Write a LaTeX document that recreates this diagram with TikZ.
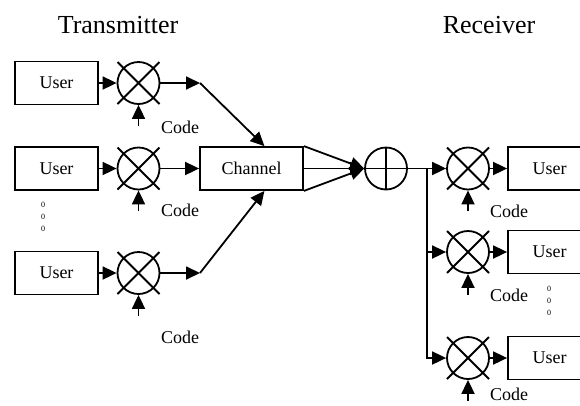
\documentclass[tikz,border=0pt]{standalone}
\usepackage{fontspec}
\setmainfont{Liberation Serif}
\usetikzlibrary{arrows.meta,positioning}
\tikzset{
  userbox/.style = {draw, line width = 1.8pt, minimum width = 83pt, minimum height = 43pt, inner sep = 0pt, font = \fontsize{18pt}{20pt}\selectfont},
  mixer/.style = {draw, circle, line width = 1.8pt, minimum size = 42pt, inner sep = 0pt},
  codelbl/.style = {font = \fontsize{18pt}{20pt}\selectfont, inner sep = 0pt},
  dotlbl/.style = {font = \fontsize{8pt}{12pt}\selectfont, align = center, inner sep = 0pt},
  heading/.style = {font = \fontsize{26pt}{28pt}\selectfont},
  arr/.style = {-{Triangle[length = 14pt, width = 13pt]}, line width = 1.8pt},
}

\begin{document}
\begin{tikzpicture}
        \useasboundingbox (0pt, 0pt) rectangle (580pt, -405pt);
        \clip (0pt, 0pt) rectangle (580pt, -405pt);

        % Titles
        \node [heading] (tx) at (118pt, -25pt) {Transmitter};
        \node [heading] (rx) at (489pt, -25pt) {Receiver};

        % Transmitter nodes
        \node [userbox] (u1) at (56.5pt, -83pt) {User};
        \node [userbox] (u2) at (56.5pt, -168.5pt) {User};
        \node [userbox] (u3) at (56.5pt, -273pt) {User};
        \node [mixer] (m1) at (138.5pt, -83pt) {};
        \node [mixer] (m2) at (138.5pt, -168.5pt) {};
        \node [mixer] (m3) at (138.5pt, -273pt) {};
        \node [userbox, minimum width = 103pt] (ch) at (251.5pt, -168.5pt) {Channel};
        \coordinate (j1) at (200pt, -83pt);
        \coordinate (j3) at (200pt, -273pt);

        % Receiver nodes
        \node [mixer] (o) at (386pt, -168.5pt) {};
        \coordinate (b) at (427pt, -168.5pt);
        \node [mixer] (r1) at (468pt, -168.5pt) {};
        \node [mixer] (r2) at (468pt, -252pt) {};
        \node [mixer] (r3) at (468pt, -358pt) {};
        \node [userbox] (v1) at (549.5pt, -168.5pt) {User};
        \node [userbox] (v2) at (549.5pt, -252pt) {User};
        \node [userbox] (v3) at (549.5pt, -358pt) {User};

        % Code inputs
        \foreach \m in {m1, m2, m3, r1, r2, r3} {
            \coordinate [below = 21pt of \m] (c\m);
            \draw [arr] (c\m) -- (\m);
            \draw [line width = 1.8pt] (\m.center) +(-21pt, -21pt) -- +(21pt, 21pt)
                  (\m.center) +(-21pt, 21pt) -- +(21pt, -21pt);
        }
        \draw [line width = 1.8pt] (o.north) -- (o.south) (o.west) -- (o.east);

        \node [codelbl] (k1) at (180pt, -127pt) {Code};
        \node [codelbl] (k2) at (180pt, -210pt) {Code};
        \node [codelbl] (k3) at (180pt, -337pt) {Code};
        \node [codelbl] (k4) at (509pt, -211pt) {Code};
        \node [codelbl] (k5) at (509pt, -295pt) {Code};
        \node [codelbl] (k6) at (509pt, -394pt) {Code};

        % Dots
        \node [dotlbl] (d1) at (43pt, -217pt) {0\\0\\0};
        \node [dotlbl] (d2) at (549pt, -301pt) {0\\0\\0};

        % Lines
        \draw [arr] (u1) -- (m1);
        \draw [arr] (u2) -- (m2);
        \draw [arr] (u3) -- (m3);
        \draw [arr] (m1) -- (j1);
        \draw [arr] (m3) -- (j3);
        \draw [arr] (m2) -- (ch);
        \draw [arr] (j1) -- (ch.60);
        \draw [arr] (j3) -- (ch.-60);
        \draw [arr] (ch.north east) -- (o.west);
        \draw [arr] (ch.east) -- (o.west);
        \draw [arr] (ch.south east) -- (o.west);
        \draw [arr] (o) -- (r1);
        \draw [arr] (b) |- (r2);
        \draw [arr] (b) |- (r3);
        \draw [arr] (r1) -- (v1);
        \draw [arr] (r2) -- (v2);
        \draw [arr] (r3) -- (v3);

\end{tikzpicture}
\end{document}
